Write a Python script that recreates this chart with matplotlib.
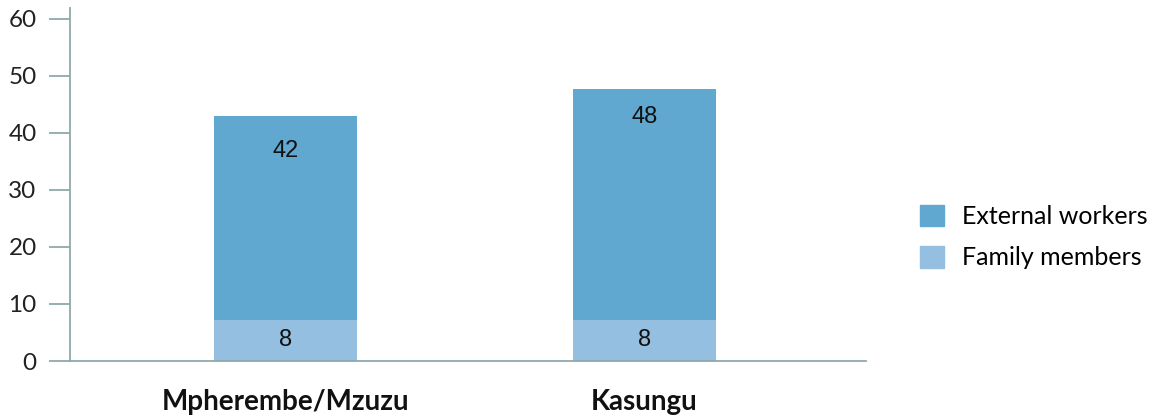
import matplotlib
matplotlib.use("Agg")
import matplotlib.pyplot as plt
from matplotlib.patches import Patch

categories = ["Mpherembe/Mzuzu", "Kasungu"]
family_members = [7.2, 7.2]
external_workers = [35.7, 40.5]
family_labels = [8, 8]
external_labels = [42, 48]
yticks = [0, 10, 20, 30, 40, 50, 60]

c_ext = "#61a8d1"
c_fam = "#95bfe0"
c_spine = "#8fa9a9"

plt.rcParams["font.family"] = ["Lato", "DejaVu Sans"]
label_font = ["Liberation Sans", "DejaVu Sans"]

fig = plt.figure(figsize=(11.56, 4.2), dpi=100)
ax = fig.add_axes([70 / 1156, 1 - 361 / 420, (866 - 70) / 1156, (361 - 8) / 420])

x = list(range(len(categories)))
ax.bar(x, family_members, width=0.4, color=c_fam, zorder=2)
ax.bar(x, external_workers, width=0.4, bottom=family_members, color=c_ext, zorder=2)

for xi, f, lab in zip(x, family_members, family_labels):
    ax.text(xi, f / 2, str(lab), ha="center", va="center", fontsize=17, family=label_font,
            color="#111111", zorder=3)
for xi, lab in zip(x, external_labels):
    ax.text(xi, lab - 5.2, str(lab), ha="center", va="center", fontsize=17, family=label_font,
            color="#111111", zorder=3)

ax.set_xlim(-0.6, 1.617)
ax.set_ylim(0, 61.9)
ax.set_yticks(yticks)
ax.set_yticklabels([str(t) for t in yticks], fontsize=17.5, color="#222222")
ax.set_xticks(x)
ax.set_xticklabels(categories, fontsize=20, fontweight="bold", color="#111111")

for s in ["top", "right"]:
    ax.spines[s].set_visible(False)
for s in ["left", "bottom"]:
    ax.spines[s].set_color(c_spine)
    ax.spines[s].set_linewidth(1.3)
ax.tick_params(axis="y", length=15, width=1.3, color=c_spine, pad=9)
ax.tick_params(axis="x", length=0, pad=20)

handles = [Patch(color=c_ext, label="External workers"), Patch(color=c_fam, label="Family members")]
fig.legend(handles=handles, loc="center left", bbox_to_anchor=(900 / 1156, 1 - 237 / 420),
           frameon=False, fontsize=18, handlelength=0.95, handleheight=0.95,
           handletextpad=0.75, labelspacing=0.72, borderpad=0.3)

fig.savefig("out.png", dpi=100)
